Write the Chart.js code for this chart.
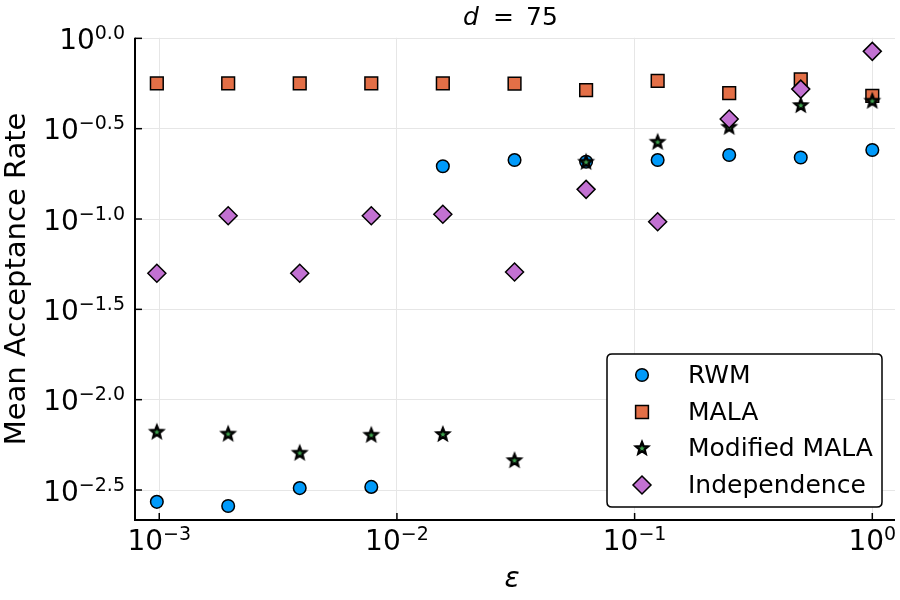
<!DOCTYPE html>
<html><head><meta charset="utf-8">
<script src="https://cdn.jsdelivr.net/npm/chart.js@4/dist/chart.umd.min.js"></script>
<style>html,body{margin:0;padding:0;background:#fff}#wrap{width:900px;height:600px}</style>
</head><body><div id="wrap"><canvas id="c" width="900" height="600"></canvas></div>
<script>
// ---- data ----
const epsilon = [0.000977, 0.00195, 0.0039, 0.0078, 0.0156, 0.03125, 0.0625, 0.125, 0.25, 0.5, 1.0];
const rwm = [0.00272, 0.00258, 0.00324, 0.00329, 0.196, 0.212, 0.2075, 0.212, 0.226, 0.219, 0.241];
const mala = [0.5636, 0.5636, 0.5636, 0.5636, 0.5636, 0.561, 0.5176, 0.5808, 0.4977, 0.5929, 0.4797];
const modifiedMala = [0.00665, 0.00649, 0.00509, 0.0064, 0.00646, 0.00463, 0.2075, 0.2679, 0.3243, 0.4276, 0.4519];
const independence = [0.0501, 0.1042, 0.0501, 0.1042, 0.1062, 0.0509, 0.1459, 0.0966, 0.3573, 0.5236, 0.8472];
const seriesNames = ['RWM', 'MALA', 'Modified MALA', 'Independence'];
const yTickExponents = [0, -0.5, -1, -1.5, -2, -2.5];
const yTickLabels = ['0.0', '\u22120.5', '\u22121.0', '\u22121.5', '\u22122.0', '\u22122.5'];
const xTickExponents = [-3, -2, -1, 0];
const xTickLabels = ['\u22123', '\u22122', '\u22121', '0'];
const titleValue = '75';
const xAxisLabel = '\u03b5';
const yAxisLabel = 'Mean Acceptance Rate';

const colors = ['#009AFA', '#E36F47', '#3EA44E', '#C271D2'];
const FONT = '"DejaVu Sans", sans-serif';

// filled star marker
function makeStar(size, outer, inner) {
  const c = document.createElement('canvas');
  c.width = size; c.height = size;
  const g = c.getContext('2d');
  const cx = size / 2, cy = size / 2 + 0.5;
  g.beginPath();
  for (let i = 0; i < 10; i++) {
    const r = i % 2 === 0 ? outer : inner;
    const a = -Math.PI / 2 + i * Math.PI / 5;
    const px = cx + r * Math.cos(a), py = cy + r * Math.sin(a);
    if (i === 0) g.moveTo(px, py); else g.lineTo(px, py);
  }
  g.closePath();
  g.fillStyle = colors[2];
  g.fill();
  g.lineWidth = 2.4;
  g.lineJoin = 'miter';
  g.miterLimit = 3;
  g.strokeStyle = '#000';
  g.stroke();
  return c;
}
const starImg = makeStar(20, 6.2, 2.7);

const toPts = arr => arr.map((v, i) => ({x: epsilon[i], y: v}));

const datasets = [
  {label: seriesNames[0], data: toPts(rwm), pointStyle: 'circle', pointRadius: 6.3, backgroundColor: colors[0], order: 4},
  {label: seriesNames[1], data: toPts(mala), pointStyle: 'rect', pointRadius: 9, backgroundColor: colors[1], order: 3},
  {label: seriesNames[2], data: toPts(modifiedMala), pointStyle: starImg, pointRadius: 8, backgroundColor: colors[2], order: 2},
  {label: seriesNames[3], data: toPts(independence), pointStyle: 'rectRot', pointRadius: 9, backgroundColor: colors[3], order: 1}
].map(d => Object.assign(d, {borderColor: '#000', borderWidth: 1.5, pointHoverRadius: d.pointRadius, showLine: false}));

function drawMarker(ctx, k, x, y) {
  ctx.save();
  ctx.lineWidth = 1.5; ctx.strokeStyle = '#000'; ctx.fillStyle = colors[k];
  if (k === 0) { ctx.beginPath(); ctx.arc(x, y, 6.3, 0, Math.PI * 2); ctx.fill(); ctx.stroke(); }
  else if (k === 1) { const s = 6.4; ctx.beginPath(); ctx.rect(x - s, y - s, 2 * s, 2 * s); ctx.fill(); ctx.stroke(); }
  else if (k === 2) { ctx.drawImage(starImg, x - 10, y - 10); }
  else { const r = 9; ctx.beginPath(); ctx.moveTo(x, y - r); ctx.lineTo(x + r, y); ctx.lineTo(x, y + r); ctx.lineTo(x - r, y); ctx.closePath(); ctx.fill(); ctx.stroke(); }
  ctx.restore();
}

const decor = {
  id: 'decor',
  afterDraw(chart) {
    const ctx = chart.ctx, a = chart.chartArea;
    const xs = chart.scales.x, ys = chart.scales.y;
    ctx.save();
    // axes
    ctx.strokeStyle = '#000'; ctx.lineWidth = 2;
    ctx.beginPath(); ctx.moveTo(a.left, a.top); ctx.lineTo(a.left, a.bottom); ctx.lineTo(a.right, a.bottom); ctx.stroke();
    ctx.lineWidth = 1.5;
    yTickExponents.forEach(e => { const y = ys.getPixelForValue(Math.pow(10, e)); ctx.beginPath(); ctx.moveTo(a.left, y); ctx.lineTo(a.left + 7, y); ctx.stroke(); });
    xTickExponents.forEach(e => { const x = xs.getPixelForValue(Math.pow(10, e)); ctx.beginPath(); ctx.moveTo(x, a.bottom); ctx.lineTo(x, a.bottom - 7); ctx.stroke(); });
    ctx.fillStyle = '#000';
    const baseFont = '28px ' + FONT, supFont = '19px ' + FONT;
    ctx.textBaseline = 'alphabetic'; ctx.textAlign = 'left';
    // y tick labels
    yTickExponents.forEach((e, i) => {
      const y = ys.getPixelForValue(Math.pow(10, e));
      ctx.font = supFont; const ws = ctx.measureText(yTickLabels[i]).width;
      ctx.font = baseFont; const wb = ctx.measureText('10').width;
      const xr = 125;
      ctx.fillText('10', xr - ws - wb, y + 10.5);
      ctx.font = supFont; ctx.fillText(yTickLabels[i], xr - ws, y + 0.5);
    });
    // x tick labels
    xTickExponents.forEach((e, i) => {
      const x = xs.getPixelForValue(Math.pow(10, e));
      ctx.font = supFont; const ws = ctx.measureText(xTickLabels[i]).width;
      ctx.font = baseFont; const wb = ctx.measureText('10').width;
      const x0 = x - (wb + ws) / 2;
      ctx.fillText('10', x0, 550);
      ctx.font = supFont; ctx.fillText(xTickLabels[i], x0 + wb, 540);
    });
    // title
    ctx.font = 'italic 25px ' + FONT; ctx.fillText('d', 463, 25);
    ctx.font = '25px ' + FONT; ctx.fillText('=', 493, 25); ctx.fillText(titleValue, 526, 25);
    // x axis label
    ctx.font = 'italic 28px ' + FONT; ctx.textAlign = 'center';
    ctx.fillText(xAxisLabel, 512, 587);
    // y axis label
    ctx.save();
    ctx.translate(25, (a.top + a.bottom) / 2); ctx.rotate(-Math.PI / 2);
    ctx.font = '29px ' + FONT; ctx.textAlign = 'center';
    ctx.fillText(yAxisLabel, 0, 0);
    ctx.restore();
    // legend
    const lx = 607, ly = 354, lw = 275, lh = 153, rr = 5;
    ctx.beginPath();
    ctx.moveTo(lx + rr, ly); ctx.lineTo(lx + lw - rr, ly); ctx.quadraticCurveTo(lx + lw, ly, lx + lw, ly + rr);
    ctx.lineTo(lx + lw, ly + lh - rr); ctx.quadraticCurveTo(lx + lw, ly + lh, lx + lw - rr, ly + lh);
    ctx.lineTo(lx + rr, ly + lh); ctx.quadraticCurveTo(lx, ly + lh, lx, ly + lh - rr);
    ctx.lineTo(lx, ly + rr); ctx.quadraticCurveTo(lx, ly, lx + rr, ly); ctx.closePath();
    ctx.fillStyle = '#fff'; ctx.fill(); ctx.lineWidth = 1.5; ctx.strokeStyle = '#000'; ctx.stroke();
    const rows = [375, 412, 448, 485];
    ctx.font = '25px ' + FONT; ctx.textAlign = 'left'; ctx.textBaseline = 'middle'; ctx.fillStyle = '#000';
    seriesNames.forEach((n, k) => {
      drawMarker(ctx, k, 642, rows[k]);
      ctx.fillStyle = '#000';
      ctx.fillText(n, 688, rows[k] + 1);
    });
    ctx.restore();
  }
};

new Chart(document.getElementById('c'), {
  type: 'scatter',
  data: {datasets},
  options: {
    responsive: false, animation: false, devicePixelRatio: 1,
    events: [],
    layout: {autoPadding: false, padding: {left: 135, top: 37.8, right: 5, bottom: 80}},
    plugins: {legend: {display: false}, tooltip: {enabled: false}, title: {display: false}},
    scales: {
      x: {type: 'logarithmic', min: Math.pow(10, -3.102), max: Math.pow(10, 0.0955),
        afterBuildTicks: s => { s.ticks = xTickExponents.map(e => ({value: Math.pow(10, e)})); },
        afterFit: s => { s.height = 0; s.paddingLeft = 0; s.paddingRight = 0; },
        ticks: {display: false}, grid: {color: '#e6e6e6', lineWidth: 1, drawTicks: false}, border: {display: false}},
      y: {type: 'logarithmic', min: Math.pow(10, -2.666), max: Math.pow(10, 0.003),
        afterBuildTicks: s => { s.ticks = yTickExponents.map(e => ({value: Math.pow(10, e)})); },
        afterFit: s => { s.width = 0; s.paddingTop = 0; s.paddingBottom = 0; },
        ticks: {display: false}, grid: {color: '#e6e6e6', lineWidth: 1, drawTicks: false}, border: {display: false}}
    }
  },
  plugins: [decor]
});
</script></body></html>
